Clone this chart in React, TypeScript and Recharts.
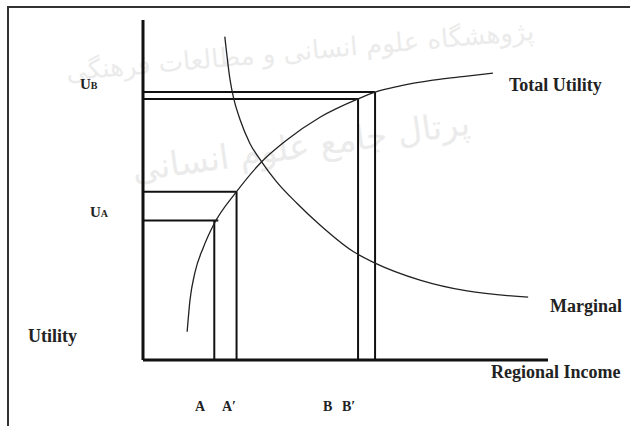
import React from 'react'
import { LineChart, Line, XAxis, YAxis, ReferenceLine } from 'recharts'

// total utility curve (income, utility)
const tuIncome = [10.9, 11.6, 12.8, 14.9, 17.4, 23.1, 29.3, 35.5, 43.7, 53.1, 57.3, 63.5, 71.6, 80.0, 86.4]
const tuUtility = [8.3, 17.6, 25.6, 33.1, 39.7, 49.5, 58.3, 64.7, 71.4, 76.8, 78.8, 80.6, 82.3, 83.5, 84.4]

// marginal utility curve
const muIncome = [20.2, 21.5, 22.3, 24.0, 26.4, 29.3, 33.0, 38.0, 43.7, 51.9, 57.3, 68.4, 80.0, 95.1]
const muUtility = [95.1, 82.4, 77.4, 70.6, 63.7, 58.3, 52.4, 46.1, 39.7, 31.9, 28.5, 23.5, 20.3, 18.5]

// income levels A, A', B, B' and matching utility levels
const incomeLevels = [17.6, 23.1, 53.1, 57.3]
const levelLineEnds = [18.6, 23.1, 53.1, 57.3]
const utilityLevels = [41.0, 49.5, 76.8, 78.8]
const incomeLabels = ['A', 'A\u2032', 'B', 'B\u2032']

const totalUtility = tuIncome.map((x, i) => ({ x, y: tuUtility[i] }))
const marginal = muIncome.map((x, i) => ({ x, y: muUtility[i] }))

const W = 630
const H = 426
const serif = '"Liberation Serif", "Times New Roman", serif'

export default function App() {
  return (
    <div style={{ position: 'fixed', left: 0, top: 0, width: W, height: H, background: '#fff' }}>
      {/* faint watermark of the scanned page */}
      <svg
        width={W}
        height={H}
        style={{ position: 'absolute', left: 0, top: 0, pointerEvents: 'none' }}
      >
        <g fill="#ebebeb" fontFamily='"DejaVu Sans", sans-serif'>
          <text x={300} y={60} fontSize={26} textAnchor="middle" transform="rotate(-5 300 50)">
            پژوهشگاه علوم انسانی و مطالعات فرهنگی
          </text>
          <text x={300} y={158} fontSize={34} textAnchor="middle" transform="rotate(-8 300 140)">
            پرتال جامع علوم انسانی
          </text>
        </g>
      </svg>

      <div style={{ position: 'absolute', left: 0, top: 0 }}>
        <LineChart
          width={W}
          height={H}
          margin={{ top: 20, right: 82, bottom: 66, left: 143 }}
        >
          <XAxis type="number" dataKey="x" domain={[0, 100]} hide />
          <YAxis type="number" dataKey="y" domain={[0, 100]} hide />

          {incomeLevels.map((x, i) => (
            <ReferenceLine
              key={`v-${i}`}
              segment={[{ x, y: 0 }, { x, y: utilityLevels[i] }]}
              stroke="#111"
              strokeWidth={2}
            />
          ))}
          {levelLineEnds.map((x, i) => (
            <ReferenceLine
              key={`h-${i}`}
              segment={[{ x: 0, y: utilityLevels[i] }, { x, y: utilityLevels[i] }]}
              stroke="#111"
              strokeWidth={2}
            />
          ))}

          {/* axes */}
          <ReferenceLine segment={[{ x: 0, y: 0 }, { x: 0, y: 100 }]} stroke="#111" strokeWidth={3} />
          <ReferenceLine segment={[{ x: 0, y: 0 }, { x: 100, y: 0 }]} stroke="#111" strokeWidth={3} />

          <Line
            data={totalUtility}
            dataKey="y"
            type="monotone"
            stroke="#222"
            strokeWidth={1.3}
            dot={false}
            isAnimationActive={false}
          />
          <Line
            data={marginal}
            dataKey="y"
            type="monotone"
            stroke="#222"
            strokeWidth={1.3}
            dot={false}
            isAnimationActive={false}
          />
        </LineChart>
      </div>

      <svg
        width={W}
        height={H}
        style={{ position: 'absolute', left: 0, top: 0, pointerEvents: 'none' }}
      >
        {/* frame */}
        <line x1={7} y1={7} x2={W} y2={7} stroke="#333" strokeWidth={2} />
        <line x1={8} y1={6} x2={8} y2={H} stroke="#333" strokeWidth={2} />

        <g fontFamily={serif} fontWeight="bold" fill="#222">
          <text x={80} y={89} fontSize={15}>
            U<tspan fontSize={10}>B</tspan>
          </text>
          <text x={90} y={217} fontSize={15}>
            U<tspan fontSize={10}>A</tspan>
          </text>
          <text x={28} y={342} fontSize={18}>Utility</text>
          <text x={509} y={91} fontSize={18}>Total Utility</text>
          <text x={550} y={312} fontSize={18}>Marginal</text>
          <text x={491} y={378} fontSize={18}>Regional Income</text>
          <text x={195} y={411} fontSize={14}>{incomeLabels[0]}</text>
          <text x={222} y={411} fontSize={14}>{incomeLabels[1]}</text>
          <text x={323} y={411} fontSize={14}>{incomeLabels[2]}</text>
          <text x={342} y={411} fontSize={14}>{incomeLabels[3]}</text>
        </g>
      </svg>
    </div>
  )
}
